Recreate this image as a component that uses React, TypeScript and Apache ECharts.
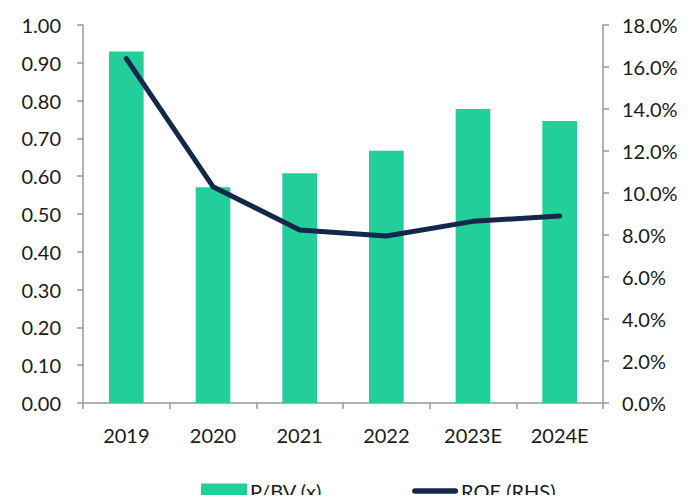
import React, { useEffect, useRef } from "react";
import * as echarts from "echarts";

const categories = ["2019", "2020", "2021", "2022", "2023E", "2024E"];
const pbv = [0.93, 0.571, 0.608, 0.667, 0.778, 0.746];
const roe = [16.4, 10.3, 8.24, 7.95, 8.65, 8.9];

const leftTicks = { min: 0, max: 1, interval: 0.1 };
const rightTicks = { min: 0, max: 18, interval: 2 };

const FONT = "Lato";
const TEXT = "#1a1a1a";
const AXIS = "#9a9a9a";

export default function App() {
  const ref = useRef<HTMLDivElement>(null);
  useEffect(() => {
    if (!ref.current) return;
    const chart = echarts.init(ref.current, undefined, { renderer: "svg" });
    chart.setOption({
      animation: false,
      textStyle: { fontFamily: FONT },
      grid: { left: 83, right: 97, top: 25, bottom: 100 },
      legend: {
        top: 476,
        left: 196,
        itemGap: 90,
        itemWidth: 46,
        itemHeight: 15,
        textStyle: { fontSize: 20, color: TEXT, fontFamily: FONT, padding: [0, 0, 0, -2] },
        data: [
          { name: "P/BV (x)", icon: "rect" },
          { name: "ROE (RHS)", icon: "path://M3,0 H47 A3,3 0 0 1 47,6 H3 A3,3 0 0 1 3,0 Z" },
        ],
      },
      xAxis: {
        type: "category",
        data: categories,
        boundaryGap: true,
        axisLine: { lineStyle: { color: AXIS, width: 1.5 } },
        axisTick: { show: true, length: 6, lineStyle: { color: AXIS, width: 1.5 } },
        axisLabel: { fontSize: 20, color: TEXT, margin: 22, fontFamily: FONT },
      },
      yAxis: [
        {
          type: "value",
          ...leftTicks,
          position: "left",
          splitLine: { show: false },
          axisLine: { show: true, lineStyle: { color: AXIS, width: 1.5 } },
          axisTick: { show: true, length: 6, lineStyle: { color: AXIS, width: 1.5 } },
          axisLabel: { fontSize: 20, color: TEXT, margin: 22, formatter: (v: number) => v.toFixed(2) },
        },
        {
          type: "value",
          ...rightTicks,
          position: "right",
          splitLine: { show: false },
          axisLine: { show: true, lineStyle: { color: AXIS, width: 1.5 } },
          axisTick: { show: true, length: 6, lineStyle: { color: AXIS, width: 1.5 } },
          axisLabel: { fontSize: 20, color: TEXT, margin: 19, formatter: (v: number) => v.toFixed(1) + "%" },
        },
      ],
      series: [
        {
          name: "P/BV (x)",
          type: "bar",
          data: pbv,
          barWidth: "40%",
          itemStyle: { color: "#22CF9A" },
        },
        {
          name: "ROE (RHS)",
          type: "line",
          yAxisIndex: 1,
          data: roe,
          symbol: "none",
          lineStyle: { color: "#13284A", width: 5, cap: "round", join: "round" },
          itemStyle: { color: "#13284A" },
        },
      ],
    });
    return () => chart.dispose();
  }, []);
  return <div ref={ref} style={{ width: 700, height: 503, margin: -8 }} />;
}
